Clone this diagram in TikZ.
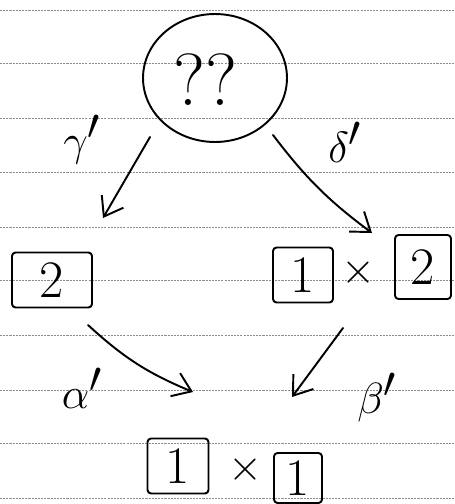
\documentclass[tikz,border=0pt]{standalone}
\usetikzlibrary{arrows.meta,shapes.geometric}
\begin{document}
\begin{tikzpicture}[x=0.02cm,y=-0.02cm,
  ruling/.style={black!45,line width=0.3pt,dash pattern=on 1.2pt off 0.6pt},
  pen/.style={line width=1.1pt,line cap=round,line join=round},
  arr/.style={pen,-{Straight Barb[length=3.5mm,width=5mm,line width=1.1pt]}},
  numbox/.style={draw,pen,rounded corners=2pt,inner sep=0pt,font=\fontsize{30}{32}\selectfont},
  lbl/.style={font=\fontsize{36}{38}\selectfont},
  tms/.style={font=\fontsize{24}{26}\selectfont}]
\useasboundingbox (0,0) rectangle (455,504);
\fill[white] (0,0) rectangle (455,504);
\foreach \yy in {10,63,118,172,227,280,335,390,443,498}
  \draw[ruling] (0,\yy) -- (455,\yy);
% top
\node[ellipse,draw,pen,minimum width=2.88cm,minimum height=2.56cm] (top) at (215,78) {};
\node[font=\fontsize{42}{44}\selectfont] (qq) at (205,80) {??};
% middle boxes
\node[numbox,minimum width=1.6cm,minimum height=1.1cm] (b2) at (52,280) {2};
\node[numbox,minimum width=1.2cm,minimum height=1.1cm] (b1) at (303,275) {1};
\node[tms] (t1) at (358,273) {$\times$};
\node[numbox,minimum width=1.12cm,minimum height=1.28cm] (b2r) at (423,267) {2};
% bottom boxes
\node[numbox,minimum width=1.22cm,minimum height=1.1cm] (c1) at (178,466) {1};
\node[tms] (t2) at (245,470) {$\times$};
\node[numbox,minimum width=0.96cm,minimum height=1.0cm] (c2) at (298,478) {1};
% labels
\node[lbl] (g) at (82,140) {$\gamma'$};
\node[lbl] (d) at (345,142) {$\delta'$};
\node[lbl] (a) at (82,388) {$\alpha'$};
\node[lbl] (b) at (377,398) {$\beta'$};
% arrow ends
\coordinate (a1s) at (150,137); \coordinate (a1e) at (103,218);
\coordinate (a2s) at (273,135); \coordinate (a2e) at (372,233);
\coordinate (a3s) at (88,325);  \coordinate (a3e) at (193,392);
\coordinate (a4s) at (343,328); \coordinate (a4e) at (292,397);
\draw[arr] (a1s) -- (a1e);
\draw[arr] (a2s) to[bend right=8] (a2e);
\draw[arr] (a3s) to[bend right=10] (a3e);
\draw[arr] (a4s) -- (a4e);
\end{tikzpicture}
\end{document}
